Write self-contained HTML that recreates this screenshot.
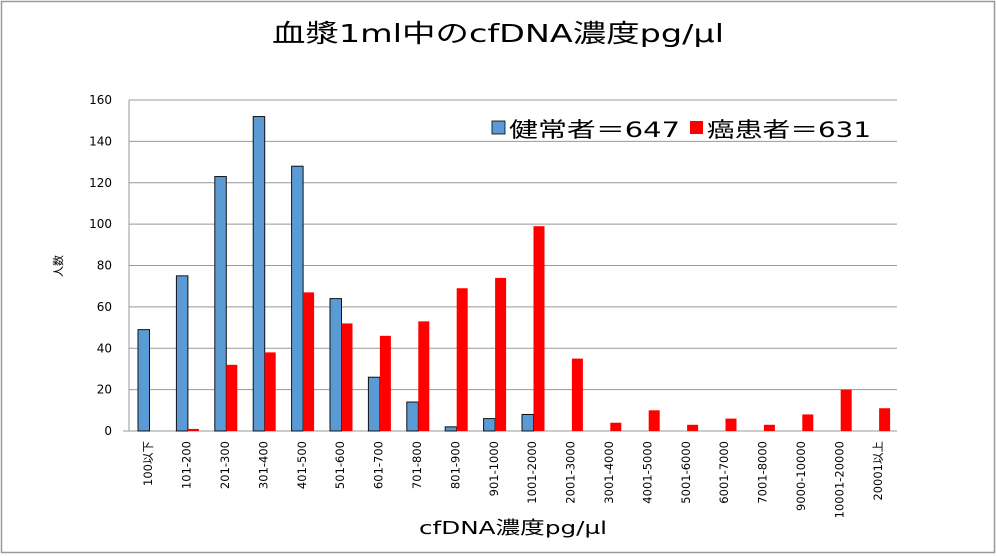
<!DOCTYPE html>
<html><head><meta charset="utf-8"><style>
body{margin:0;background:#fff;}
svg{display:block;font-family:"DejaVu Sans","Noto Sans CJK JP",sans-serif;}
</style></head><body>
<svg id="s" width="997" height="556" xmlns="http://www.w3.org/2000/svg">
<rect x="1.5" y="1.5" width="993" height="551" fill="#fff" stroke="#999" stroke-width="1.5"/>
<text x="272" y="42" font-size="25" textLength="452" lengthAdjust="spacingAndGlyphs" fill="#000">血漿1ml中のcfDNA濃度pg/μl</text>
<text x="419" y="534" font-size="18" textLength="188" lengthAdjust="spacingAndGlyphs" fill="#000">cfDNA濃度pg/μl</text>
<text transform="translate(62,266) rotate(-90)" font-size="11" text-anchor="middle">人数</text>
<g id="g"></g>
<rect x="492" y="121" width="13" height="13" fill="#5b9bd5" stroke="#000" stroke-width="0.8"/>
<text x="509" y="137" font-size="21" textLength="171" lengthAdjust="spacingAndGlyphs">健常者＝647</text>
<rect x="690" y="121" width="13" height="13" fill="#f00"/>
<text x="707" y="137" font-size="21" textLength="164" lengthAdjust="spacingAndGlyphs">癌患者＝631</text>
</svg>
<script>
var g=document.getElementById('g'),h='';
var L=129,R=897,T=100,B=431,n=20,cw=(R-L)/n,k=(B-T)/160;
for(var v=0;v<=160;v+=20){var y=B-v*k;
h+='<line x1="'+(v?L:L-6)+'" x2="'+R+'" y1="'+y+'" y2="'+y+'" stroke="#999" stroke-width="1"/>';
h+='<text x="112" y="'+(y+4)+'" font-size="12" text-anchor="end">'+v+'</text>';}
h+='<line x1="'+L+'" x2="'+L+'" y1="'+T+'" y2="'+B+'" stroke="#999"/>';
var cats=["100以下","101-200","201-300","301-400","401-500","501-600","601-700","701-800","801-900","901-1000","1001-2000","2001-3000","3001-4000","4001-5000","5001-6000","6001-7000","7001-8000","9000-10000","10001-20000","20001以上"];
var b=[49,75,123,152,128,64,26,14,2,6,8,0,0,0,0,0,0,0,0,0];
var r=[0,1,32,38,67,52,46,53,69,74,99,35,4,10,3,6,3,8,20,11];
for(var i=0;i<n;i++){var x=L+i*cw+9;
if(b[i])h+='<rect x="'+x+'" y="'+(B-b[i]*k)+'" width="11.5" height="'+(b[i]*k)+'" fill="#5b9bd5" stroke="#111" stroke-width="1"/>';
if(r[i])h+='<rect x="'+(x+11.5)+'" y="'+(B-r[i]*k)+'" width="11" height="'+(r[i]*k)+'" fill="#f00"/>';
var cx=L+i*cw+cw/2+4;
h+='<text transform="translate('+cx+',441) rotate(-90)" font-size="11.5" text-anchor="end">'+cats[i]+'</text>';}
g.innerHTML=h;
</script>
</body></html>
